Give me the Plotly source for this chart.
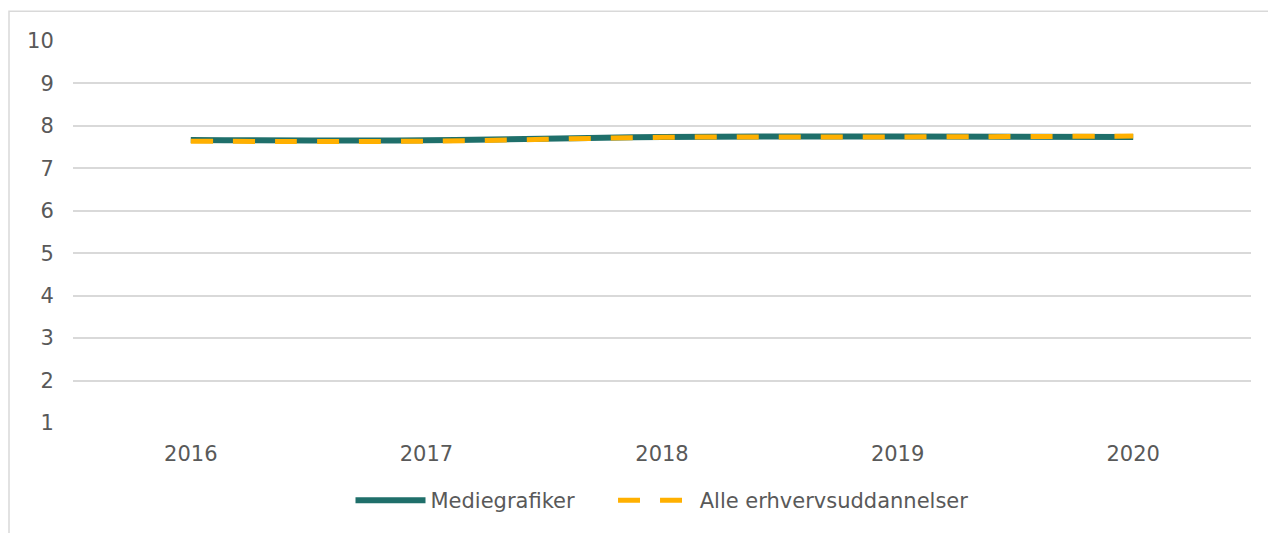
import plotly.graph_objects as go

years = ["2016", "2017", "2018", "2019", "2020"]
mediegrafiker = [7.67, 7.66, 7.74, 7.75, 7.74]
alle_eud = [7.64, 7.64, 7.73, 7.74, 7.76]
y_ticks = [1, 2, 3, 4, 5, 6, 7, 8, 9, 10]

W, H = 1268, 533
L, R, T, B = 73, 17, 41, 108
pw, ph = W - L - R, H - T - B

fig = go.Figure()
fig.add_trace(go.Scatter(
    x=years, y=mediegrafiker, name="Mediegrafiker\u00a0\u00a0\u00a0\u00a0\u00a0", mode="lines",
    line=dict(color="#1f6f6a", width=6, shape="spline"),
))
fig.add_trace(go.Scatter(
    x=years, y=alle_eud, name="\u00a0Alle erhvervsuddannelser", mode="lines",
    line=dict(color="#ffb000", width=5, shape="spline", dash="22px,20px"),
))

font = dict(family="DejaVu Sans, Verdana, sans-serif", size=21, color="#595959")

# light frame around the chart area
def px_x(v):
    return (v - L) / pw

def px_y(v):
    return (H - B - v) / ph

fig.add_shape(type="rect", xref="paper", yref="paper",
              x0=px_x(9), x1=px_x(W + 10), y0=px_y(H + 10), y1=px_y(11),
              line=dict(color="#d9d9d9", width=1.5), fillcolor="rgba(0,0,0,0)",
              layer="below")

fig.update_layout(
    width=W, height=H,
    margin=dict(l=L, r=R, t=T, b=B),
    paper_bgcolor="white", plot_bgcolor="white",
    font=font,
    showlegend=True,
    legend=dict(orientation="h", x=0.5, xanchor="center",
                y=px_y(503), yanchor="middle",
                font=dict(family=font["family"], size=21, color="#595959"),
                itemwidth=70, tracegroupgap=0),
    xaxis=dict(type="category", range=[-0.5, 4.5], showgrid=False,
               zeroline=False, showline=False,
               ticks="outside", ticklen=12, tickcolor="rgba(0,0,0,0)",
               tickfont=font),
    yaxis=dict(range=[1, 10], tickvals=y_ticks, showgrid=True,
               gridcolor="#d9d9d9", gridwidth=1.5, zeroline=False,
               showline=False, ticks="outside", ticklen=14,
               tickcolor="rgba(0,0,0,0)", tickfont=font),
)

fig.write_html("out.html")
